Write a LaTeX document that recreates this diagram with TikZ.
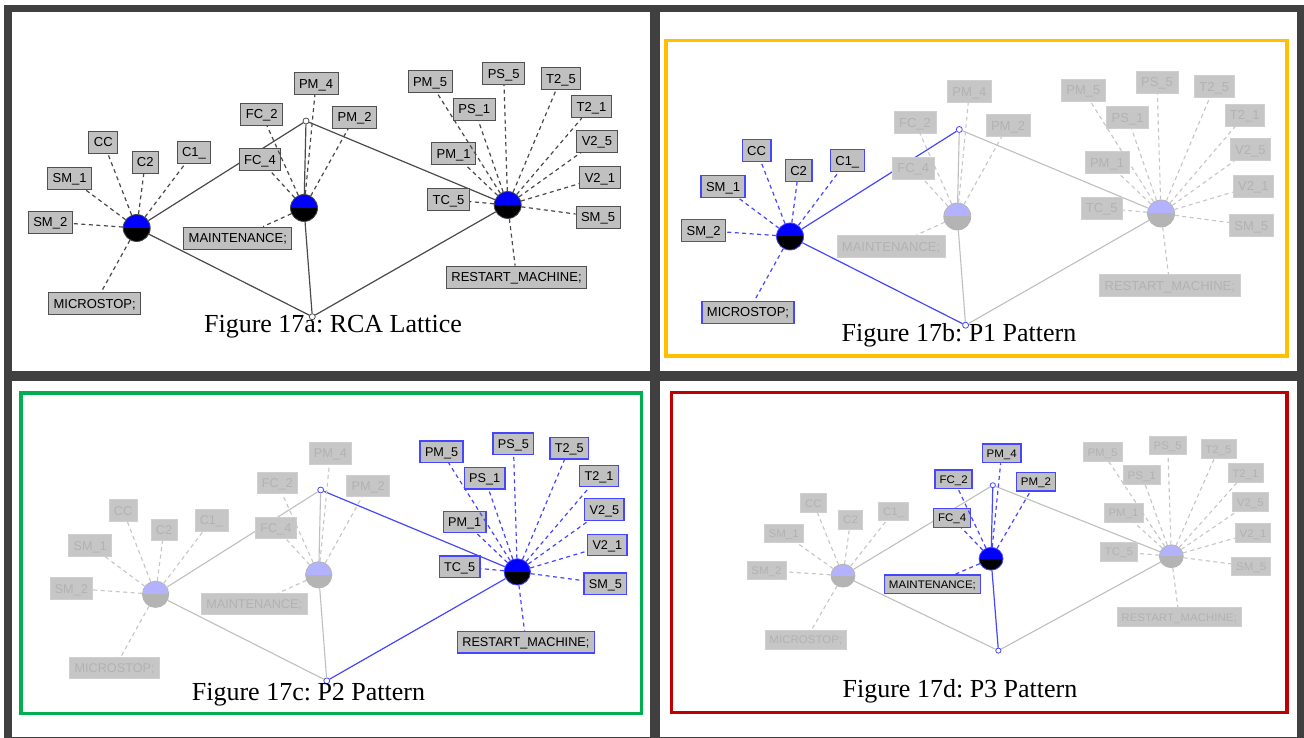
\documentclass[tikz,border=0pt]{standalone}
\usepackage{fontspec}
\setmainfont{Liberation Serif}
\newfontfamily\boxfont{Liberation Sans}
\usepackage{tikz}
\frenchspacing

\definecolor{framegray}{HTML}{404040}
\definecolor{boxfill}{HTML}{C0C0C0}
\definecolor{boxline}{HTML}{505050}
\definecolor{edgecol}{HTML}{4A4A4A}
\definecolor{conblue}{HTML}{0000FF}
\definecolor{hlblue}{HTML}{4646FF}
\definecolor{fadefill}{HTML}{C6C6C6}
\definecolor{fadeline}{HTML}{CFCFCF}
\definecolor{fadetext}{HTML}{B2B2B2}
\definecolor{fadeblue}{HTML}{B2B2FF}
\definecolor{fadegray}{HTML}{B4B4B4}
\definecolor{p1yellow}{HTML}{FFC000}
\definecolor{p2green}{HTML}{00B050}
\definecolor{p3red}{HTML}{C00000}

\tikzset{
  halves/.style 2 args={circle, minimum size=27, inner sep=0, line width=0.8, fill=#1,
    path picture={\fill[#2] (path picture bounding box.west) rectangle (path picture bounding box.south east);}},
  conceptnorm/.style={halves={conblue}{black}, draw=edgecol},
  concepthigh/.style={halves={conblue}{black}, draw=hlblue},
  conceptfade/.style={halves={fadeblue}{fadegray}, draw=fadegray},
  latdot/.style={circle, minimum size=6, inner sep=0, fill=white, line width=0.8},
  latdotnorm/.style={latdot, draw=edgecol},
  latdothigh/.style={latdot, draw=hlblue},
  edgenorm/.style={draw=edgecol, line width=1.2},
  edgehigh/.style={draw=hlblue, line width=1.2},
  edgefade/.style={draw=fadegray!85, line width=1.1},
  linknorm/.style={draw=edgecol, line width=1.2, dash pattern=on 4 off 3.5},
  linkhigh/.style={draw=hlblue, line width=1.2, dash pattern=on 4 off 3.5},
  linkfade/.style={draw=fadefill, line width=1.1, dash pattern=on 4 off 3.5},
  lbl/.style={rectangle, font=\boxfont\fontsize{13}{13}\selectfont, minimum height=22,
    inner xsep=5, inner ysep=0, text height=9.5, text depth=0},
  lblnorm/.style={lbl, fill=boxfill, draw=boxline, line width=0.9},
  lblhigh/.style={lbl, fill=boxfill, draw=hlblue, line width=1.4},
  lblfade/.style={lbl, fill=fadefill, draw=fadeline, text=fadetext, line width=0.8},
  figcap/.style={anchor=base, font=\fontsize{26}{26}\selectfont},
  panelframe/.style={line width=3.6},
}

% one lattice; #1,#2,#3 = look of concepts A, B, C; #4 = look of top/bottom
\newcommand{\lattice}[4]{%
  % Concepts
  \node[concept#1] (A) at (136.7,228) {};
  \node[concept#2] (B) at (304,208) {};
  \node[concept#3] (C) at (507.7,205) {};
  \node[latdot#4] (top) at (306,121) {};
  \node[latdot#4] (bot) at (312.3,316.7) {};
  % Lattice edges
  \draw[edge#1] (top) -- (A) -- (bot);
  \draw[edge#2] (top) -- (B) -- (bot);
  \draw[edge#3] (top) -- (C) -- (bot);
  % Attributes of A
  \node[lbl#1] (sm1) at (69.7,178) {SM\_1};
  \node[lbl#1] (sm2) at (50.3,222) {SM\_2};
  \node[lbl#1] (cc) at (103.3,142) {CC};
  \node[lbl#1] (c2) at (145.3,162) {C2};
  \node[lbl#1] (c1) at (194,152) {C1\_};
  \node[lbl#1] (micro) at (94.7,303.7) {MICROSTOP;};
  \foreach \l in {sm1,sm2,cc,c2,c1,micro} \draw[link#1] (A) -- (\l);
  % Attributes of B
  \node[lbl#2] (fc2) at (261.7,114) {FC\_2};
  \node[lbl#2] (fc4) at (260,159.7) {FC\_4};
  \node[lbl#2] (pm4) at (316,83.3) {PM\_4};
  \node[lbl#2] (pm2) at (354.7,117) {PM\_2};
  \node[lbl#2] (maint) at (237.8,238) {MAINTENANCE;};
  \foreach \l in {fc2,fc4,pm4,pm2,maint} \draw[link#2] (B) -- (\l);
  % Attributes of C
  \node[lbl#3] (pm5) at (430,81.7) {PM\_5};
  \node[lbl#3] (ps5) at (503.7,73.7) {PS\_5};
  \node[lbl#3] (t25) at (561,78.3) {T2\_5};
  \node[lbl#3] (ps1) at (474.3,109) {PS\_1};
  \node[lbl#3] (t21) at (591.5,106.7) {T2\_1};
  \node[lbl#3] (pm1) at (453.7,153.8) {PM\_1};
  \node[lbl#3] (v25) at (597,141) {V2\_5};
  \node[lbl#3] (v21) at (600,177.5) {V2\_1};
  \node[lbl#3] (tc5) at (448.5,199.7) {TC\_5};
  \node[lbl#3] (sm5) at (598,217) {SM\_5};
  \node[lbl#3] (restart) at (516.5,277) {RESTART\_MACHINE;};
  \foreach \l in {pm5,ps5,t25,ps1,t21,pm1,v25,v21,tc5,sm5,restart} \draw[link#3] (C) -- (\l);
}

\begin{document}
\begin{tikzpicture}[x=1pt, y=-1pt]
	\useasboundingbox (0,0) rectangle (1304,738);

	% Frame and panels
	\fill[white] (0,0) rectangle (1304,738);
	\fill[framegray] (4,5) rectangle (1304,738);
	\fill[white] (12,12) rectangle (650,371);
	\fill[white] (660,12) rectangle (1297,371);
	\fill[white] (12,381) rectangle (650,737);
	\fill[white] (660,381) rectangle (1297,737);
	\draw[panelframe, p1yellow] (666,40.5) rectangle (1287,355.7);
	\draw[panelframe, p2green] (21,392.7) rectangle (641.5,713.3);
	\draw[panelframe, p3red] (671.5,392.5) rectangle (1287,712.3);

	% Figure 17a
	\begin{scope}[name prefix=pa-]
		\lattice{norm}{norm}{norm}{norm}
	\end{scope}
	\node[figcap] (capa) at (333,332) {Figure 17a: RCA Lattice};

	% Figure 17b
	\begin{scope}[name prefix=pb-, shift={(653.3,8.5)}]
		\lattice{high}{fade}{fade}{high}
	\end{scope}
	\node[figcap] (capb) at (959,341) {Figure 17b: P1 Pattern};

	% Figure 17c
	\begin{scope}[name prefix=pc-, shift={(22.3,372)}, scale=0.975, transform shape]
		\lattice{fade}{fade}{high}{high}
	\end{scope}
	\node[figcap] (capc) at (308.5,700) {Figure 17c: P2 Pattern};

	% Figure 17d
	\begin{scope}[name prefix=pd-, shift={(722,383)}, xscale=0.885, yscale=0.845, transform shape]
		\lattice{fade}{high}{fade}{high}
	\end{scope}
	\node[figcap] (capd) at (960,697) {Figure 17d: P3 Pattern};
\end{tikzpicture}
\end{document}
